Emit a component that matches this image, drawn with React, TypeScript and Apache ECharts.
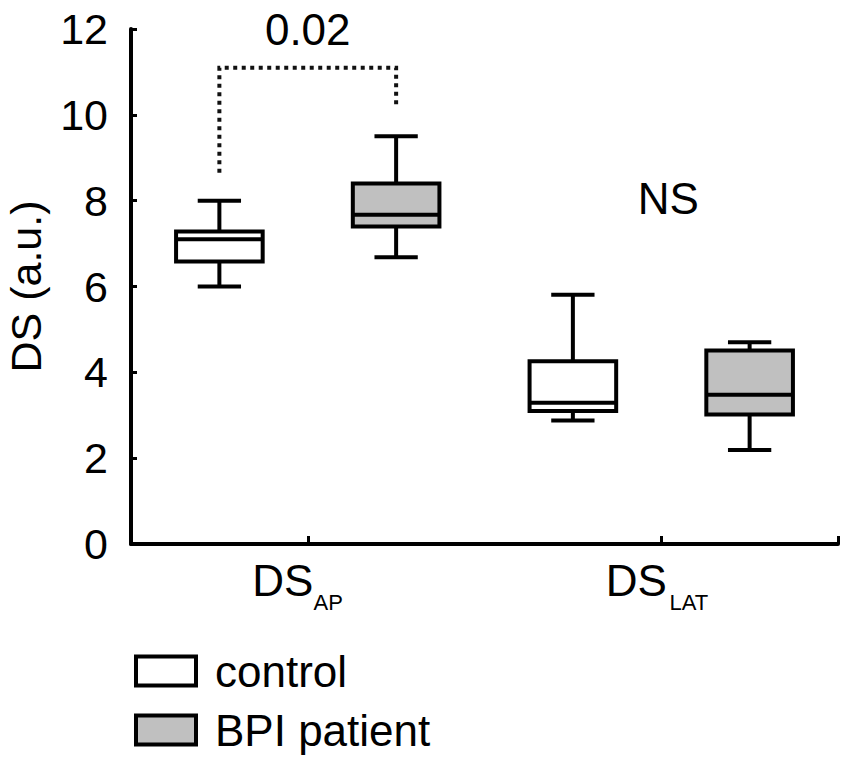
import React, { useEffect, useRef } from "react";
import * as echarts from "echarts";

// ---- data ----
const categories = ["DS_AP", "DS_LAT"];
// four slots: control / patient for each category
const slots = ["control DS_AP", "BPI DS_AP", "control DS_LAT", "BPI DS_LAT"];
const seriesNames = ["control", "BPI patient"];
const seriesFills = ["#ffffff", "#c0c0c0"];
// [min, Q1, median, Q3, max]
const controlBoxes = [
  [6.0, 6.58, 7.1, 7.28, 8.0],
  [2.88, 3.1, 3.29, 4.26, 5.81],
];
const patientBoxes = [
  [6.68, 7.4, 7.67, 8.4, 9.5],
  [2.19, 3.02, 3.48, 4.51, 4.7],
];
const controlSlots = [0, 2];
const patientSlots = [1, 3];
// significance bracket between control DS_AP (slot 0) and patient DS_AP (slot 1)
const bracketPoints = [
  [0, 8.65],
  [0, 11.1],
  [1, 11.1],
  [1, 10.2],
];
// annotation texts: [slotA, slotB, value]
const annotationTexts = ["0.02", "NS"];
const annotationAnchors = [
  [0, 1, 12],
  [2, 3, 8.06],
];
const yTicks = { min: 0, max: 12, interval: 2 };

const FONT = "'Liberation Sans', Arial, Helvetica, sans-serif";
const BLACK = "#000";

function makeBoxRenderer(fill: string) {
  return (params: any, api: any) => {
    const slot = api.value(0);
    const lo = api.value(1);
    const q1 = api.value(2);
    const med = api.value(3);
    const q3 = api.value(4);
    const hi = api.value(5);
    const band = api.size([1, 0])[0];
    const boxW = band * 0.49;
    const capW = band * 0.245;
    const cx = api.coord([slot, med])[0];
    const y = (v: number) => api.coord([slot, v])[1];
    const ls = { stroke: BLACK, lineWidth: 4, lineCap: "butt" };
    return {
      type: "group",
      children: [
        { type: "line", shape: { x1: cx, y1: y(q3), x2: cx, y2: y(hi) }, style: ls },
        { type: "line", shape: { x1: cx, y1: y(q1), x2: cx, y2: y(lo) }, style: ls },
        { type: "line", shape: { x1: cx - capW / 2, y1: y(hi), x2: cx + capW / 2, y2: y(hi) }, style: ls },
        { type: "line", shape: { x1: cx - capW / 2, y1: y(lo), x2: cx + capW / 2, y2: y(lo) }, style: ls },
        {
          type: "rect",
          shape: { x: cx - boxW / 2, y: y(q3), width: boxW, height: y(q1) - y(q3) },
          style: { fill, stroke: BLACK, lineWidth: 4 },
        },
        { type: "line", shape: { x1: cx - boxW / 2, y1: y(med), x2: cx + boxW / 2, y2: y(med) }, style: ls },
      ],
    };
  };
}

function legendFor(i: number, top: number) {
  return {
    orient: "vertical",
    left: 129,
    top,
    itemWidth: 60,
    itemHeight: 29,
    icon: "rect",
    selectedMode: false,
    data: [{ name: seriesNames[i], itemStyle: { color: seriesFills[i], borderColor: BLACK, borderWidth: 4 } }],
    textStyle: { fontSize: 44, color: BLACK, fontFamily: FONT, padding: [0, 0, 0, 14] },
  };
}

const hiddenLine = { show: false };

export default function App() {
  const ref = useRef<HTMLDivElement>(null);
  useEffect(() => {
    if (!ref.current) return;
    const chart = echarts.init(ref.current, undefined, { renderer: "svg" });
    const controlData = controlBoxes.map((b, i) => [controlSlots[i], ...b]);
    const patientData = patientBoxes.map((b, i) => [patientSlots[i], ...b]);
    const annData = annotationAnchors.map((a) => [...a]);

    chart.setOption({
      animation: false,
      backgroundColor: "#fff",
      textStyle: { fontFamily: FONT, color: BLACK },
      grid: { left: 131, right: 12, top: 29, bottom: 221, containLabel: false, outerBoundsMode: "none" },
      legend: [legendFor(0, 644), legendFor(1, 703)],
      xAxis: [
        {
          type: "category",
          data: slots,
          position: "bottom",
          boundaryGap: true,
          axisLine: { show: true, lineStyle: { color: BLACK, width: 4 } },
          axisTick: {
            show: true,
            inside: true,
            length: 8,
            interval: (i: number) => i % 2 === 1,
            lineStyle: { color: BLACK, width: 3 },
          },
          axisLabel: { show: false },
          splitLine: { show: false },
        },
        {
          // main part of category labels ("DS")
          type: "category",
          data: categories,
          position: "bottom",
          boundaryGap: true,
          axisLine: hiddenLine,
          axisTick: { show: false },
          splitLine: { show: false },
          axisLabel: {
            show: true,
            margin: 11,
            interval: 0,
            fontSize: 44,
            lineHeight: 50,
            fontFamily: FONT,
            color: BLACK,
            padding: [0, 50, 0, 0],
            formatter: (v: string) => v.split("_")[0],
          },
        },
        {
          // subscript part of category labels ("AP", "LAT")
          type: "category",
          data: categories,
          position: "bottom",
          boundaryGap: true,
          axisLine: hiddenLine,
          axisTick: { show: false },
          splitLine: { show: false },
          axisLabel: {
            show: true,
            margin: 47,
            interval: 0,
            formatter: (v: string) => {
              const sub = v.split("_")[1];
              return `{${sub === "AP" ? "a" : "l"}|${sub}}`;
            },
            rich: {
              a: { fontSize: 22, lineHeight: 22, fontFamily: FONT, color: BLACK, padding: [0, 0, 0, 41] },
              l: { fontSize: 22, lineHeight: 22, fontFamily: FONT, color: BLACK, padding: [0, 0, 0, 55] },
            },
          },
        },
      ],
      yAxis: {
        type: "value",
        min: yTicks.min,
        max: yTicks.max,
        interval: yTicks.interval,
        name: "DS (a.u.)",
        nameLocation: "middle",
        nameRotate: 90,
        nameGap: 83,
        nameTextStyle: { fontSize: 43, color: BLACK, fontFamily: FONT, lineHeight: 44 },
        axisLine: { show: true, lineStyle: { color: BLACK, width: 4 } },
        axisTick: { show: true, inside: true, length: 6, lineStyle: { color: BLACK, width: 3 } },
        axisLabel: { fontSize: 43, color: BLACK, fontFamily: FONT, margin: 23 },
        splitLine: { show: false },
      },
      series: [
        {
          type: "custom",
          name: seriesNames[0],
          xAxisIndex: 0,
          yAxisIndex: 0,
          itemStyle: { color: seriesFills[0] },
          renderItem: makeBoxRenderer(seriesFills[0]),
          encode: { x: 0, y: [1, 2, 3, 4, 5] },
          data: controlData,
          z: 3,
        },
        {
          type: "custom",
          name: seriesNames[1],
          xAxisIndex: 0,
          yAxisIndex: 0,
          itemStyle: { color: seriesFills[1] },
          renderItem: makeBoxRenderer(seriesFills[1]),
          encode: { x: 0, y: [1, 2, 3, 4, 5] },
          data: patientData,
          z: 3,
        },
        {
          type: "line",
          name: "bracket",
          xAxisIndex: 0,
          yAxisIndex: 0,
          data: bracketPoints,
          symbol: "none",
          lineStyle: { color: "#111", width: 4, type: [4, 4.5], cap: "butt", join: "miter" },
          silent: true,
        },
        {
          type: "custom",
          name: "annotations",
          xAxisIndex: 0,
          yAxisIndex: 0,
          encode: { x: 0, y: 2 },
          data: annData,
          silent: true,
          renderItem: (params: any, api: any) => {
            const v = api.value(2);
            const p1 = api.coord([api.value(0), v]);
            const p2 = api.coord([api.value(1), v]);
            return {
              type: "text",
              style: {
                x: (p1[0] + p2[0]) / 2 + (params.dataIndex === 1 ? 7 : 0),
                y: p1[1],
                text: annotationTexts[params.dataIndex],
                align: "center",
                verticalAlign: "middle",
                fontSize: 44,
                fontFamily: FONT,
                fill: BLACK,
              },
            };
          },
        },
      ],
    });
    return () => chart.dispose();
  }, []);
  return (
    <div
      ref={ref}
      style={{ position: "absolute", left: 0, top: 0, width: 850, height: 765 }}
    />
  );
}
